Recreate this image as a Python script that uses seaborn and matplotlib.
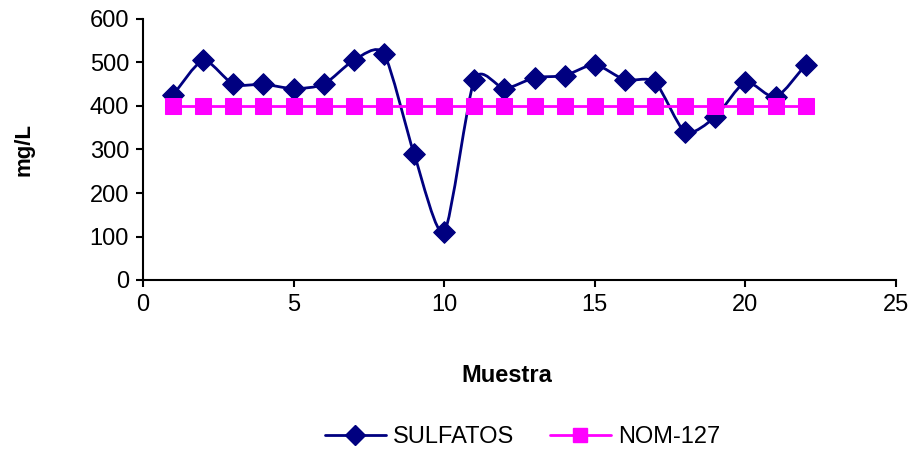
import numpy as np
import pandas as pd
import matplotlib
matplotlib.use("Agg")
import matplotlib.pyplot as plt
from matplotlib.path import Path
from matplotlib.patches import PathPatch
from matplotlib.lines import Line2D
import seaborn as sns

muestra = list(range(1, 23))
sulfatos = [425, 505, 450, 450, 440, 450, 505, 520, 290, 110, 460,
            440, 465, 470, 495, 460, 455, 340, 375, 455, 420, 495]
nom127 = [400] * 22

sns.set_theme(style="white")
plt.rcParams['font.family'] = ['Liberation Sans', 'DejaVu Sans']
plt.rcParams['text.color'] = 'black'
plt.rcParams['axes.labelcolor'] = 'black'

df = pd.DataFrame({"x": muestra, "SULFATOS": sulfatos, "NOM-127": nom127})

fig = plt.figure(figsize=(9.15, 4.54), dpi=100)
ax = fig.add_axes([143 / 915, 1 - 280 / 454, (896 - 143) / 915, (280 - 19) / 454])

navy = "#000080"
magenta = "#FF00FF"

# linea suavizada tipo Excel (bezier entre puntos)
def smooth_path(x, y, t=0.12):
    x = np.asarray(x, float)
    y = np.asarray(y, float)
    verts = [(x[0], y[0])]
    codes = [Path.MOVETO]
    n = len(x)
    for i in range(n - 1):
        x0, y0 = (x[i - 1], y[i - 1]) if i > 0 else (x[i], y[i])
        x3, y3 = (x[i + 2], y[i + 2]) if i + 2 < n else (x[i + 1], y[i + 1])
        c1 = (x[i] + (x[i + 1] - x0) * t, y[i] + (y[i + 1] - y0) * t)
        c2 = (x[i + 1] - (x3 - x[i]) * t, y[i + 1] - (y3 - y[i]) * t)
        verts += [c1, c2, (x[i + 1], y[i + 1])]
        codes += [Path.CURVE4] * 3
    return Path(verts, codes)

ax.add_patch(PathPatch(smooth_path(df["x"], df["SULFATOS"]), fill=False,
                       edgecolor=navy, lw=2, zorder=2))
sns.scatterplot(data=df, x="x", y="SULFATOS", marker="D", s=120, color=navy,
                edgecolor=navy, ax=ax, zorder=3, legend=False)
sns.lineplot(data=df, x="x", y="NOM-127", marker="s", markersize=11, color=magenta,
             markeredgecolor=magenta, lw=2, ax=ax, zorder=4, legend=False)

ax.set_xlim(0, 25)
ax.set_ylim(0, 600)
ax.set_xticks([0, 5, 10, 15, 20, 25])
ax.set_yticks(range(0, 601, 100))
ax.tick_params(axis="both", labelsize=17, direction="out", length=5, width=1.5,
               bottom=True, left=True, colors="black", pad=5)
for s in ["top", "right"]:
    ax.spines[s].set_visible(False)
for s in ["left", "bottom"]:
    ax.spines[s].set_color("black")
    ax.spines[s].set_linewidth(1.5)

ax.set_xlabel("Muestra", fontsize=17, fontweight="bold", labelpad=35)
ax.xaxis.label.set_x((507 - 143) / (896 - 143))
ax.set_ylabel("mg/L", fontsize=16, fontweight="bold", labelpad=40)

handles = [Line2D([], [], color=navy, marker="D", markersize=10, lw=2),
           Line2D([], [], color=magenta, marker="s", markersize=10, lw=2)]
fig.legend(handles, ["SULFATOS", "NOM-127"], loc="center", bbox_to_anchor=(0.571, 0.037),
           ncol=2, frameon=False, fontsize=17, handlelength=2.6, columnspacing=1.5,
           handletextpad=0.3)

fig.savefig("out.png", dpi=100)
